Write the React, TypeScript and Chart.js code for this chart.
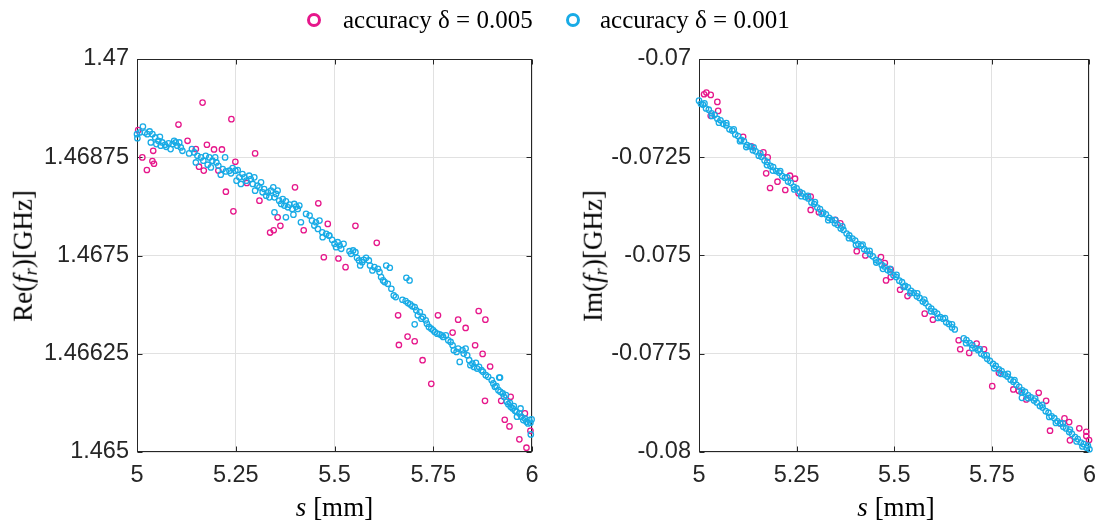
import React, { useEffect, useRef } from "react";
import { Chart, registerables } from "chart.js";

Chart.register(...registerables);

// ---------- ticks ----------
const sTicks = [5, 5.25, 5.5, 5.75, 6];
const sTickLabels = ["5", "5.25", "5.5", "5.75", "6"];
const reTicks = [1.465, 1.46625, 1.4675, 1.46875, 1.47];
const reTickLabels = ["1.465", "1.46625", "1.4675", "1.46875", "1.47"];
const imTicks = [-0.08, -0.0775, -0.075, -0.0725, -0.07];
const imTickLabels = ["-0.08", "-0.0775", "-0.075", "-0.0725", "-0.07"];

const legendLabels = ["accuracy δ = 0.005", "accuracy δ = 0.001"];

// ---------- Re(f_r), accuracy 0.005 : [s, value] ----------
const re005: [number, number][] = [
  [5.166, 1.469445], [5.105, 1.469166], [5.239, 1.469235], [5.003, 1.469095], [5.128, 1.468959],
  [5.177, 1.468909], [5.195, 1.468849], [5.215, 1.468849], [5.149, 1.468854], [5.0135, 1.468748],
  [5.041, 1.468832], [5.039, 1.468701], [5.043, 1.468667], [5.025, 1.468588], [5.299, 1.468799],
  [5.249, 1.468693], [5.157, 1.46863], [5.169, 1.46858], [5.206, 1.46858], [5.225, 1.468312],
  [5.244, 1.468062], [5.278, 1.468423], [5.31, 1.468198], [5.4, 1.468367], [5.459, 1.468164],
  [5.356, 1.467986], [5.363, 1.467877], [5.337, 1.467792], [5.346, 1.467821], [5.422, 1.467821],
  [5.483, 1.467902], [5.473, 1.467478], [5.553, 1.467877], [5.607, 1.467661], [5.51, 1.467462],
  [5.528, 1.467352], [5.661, 1.466739], [5.762, 1.466739], [5.813, 1.466684], [5.865, 1.466794],
  [5.882, 1.466684], [5.832, 1.466578], [5.799, 1.466519], [5.685, 1.466468], [5.703, 1.466409],
  [5.663, 1.466362], [5.856, 1.466358], [5.875, 1.466248], [5.723, 1.466168], [5.894, 1.466088],
  [5.745, 1.465867], [5.881, 1.465651], [5.922, 1.465651], [5.946, 1.465702], [5.982, 1.465491],
  [5.931, 1.46541], [5.943, 1.465326], [5.996, 1.46527], [5.968, 1.465161], [5.986, 1.465055],
];

// ---------- Re(f_r), accuracy 0.001 ----------
const re001: [number, number][] = [
  [5.0, 1.469044], [5.001, 1.468993], [5.007, 1.469065], [5.015, 1.469141], [5.02, 1.469065],
  [5.026, 1.469044], [5.032, 1.469078], [5.035, 1.468938], [5.039, 1.469044], [5.046, 1.469002],
  [5.049, 1.468917], [5.054, 1.468959], [5.058, 1.46901], [5.06, 1.468896], [5.064, 1.468938],
  [5.071, 1.468909], [5.074, 1.468883], [5.08, 1.468926], [5.085, 1.468854], [5.09, 1.468917],
  [5.094, 1.468959], [5.098, 1.468938], [5.102, 1.468896], [5.107, 1.468938], [5.111, 1.468875],
  [5.115, 1.468832], [5.132, 1.468799], [5.139, 1.468854], [5.145, 1.468811], [5.149, 1.468684],
  [5.153, 1.468769], [5.162, 1.468748], [5.168, 1.468706], [5.174, 1.468769], [5.179, 1.468655],
  [5.183, 1.468748], [5.187, 1.468621], [5.191, 1.468706], [5.198, 1.468748], [5.201, 1.468684],
  [5.206, 1.468642], [5.212, 1.468528], [5.217, 1.4686], [5.223, 1.468748], [5.225, 1.46857],
  [5.234, 1.468579], [5.238, 1.468545], [5.242, 1.468613], [5.249, 1.468579], [5.252, 1.468452],
  [5.255, 1.468587], [5.259, 1.468494], [5.263, 1.46841], [5.267, 1.468536], [5.272, 1.468494],
  [5.277, 1.468452], [5.284, 1.468515], [5.288, 1.468473], [5.293, 1.46841], [5.297, 1.468494],
  [5.299, 1.468325], [5.305, 1.468388], [5.31, 1.468367], [5.314, 1.468431], [5.318, 1.468304],
  [5.322, 1.468346], [5.327, 1.468261], [5.331, 1.468304], [5.335, 1.46824], [5.339, 1.468325],
  [5.345, 1.468367], [5.348, 1.46824], [5.352, 1.468283], [5.356, 1.468325], [5.36, 1.468198],
  [5.365, 1.468156], [5.369, 1.468219], [5.373, 1.468135], [5.377, 1.46819], [5.382, 1.468113],
  [5.386, 1.468147], [5.393, 1.468092], [5.396, 1.46802], [5.398, 1.468156], [5.403, 1.468122],
  [5.407, 1.468092], [5.411, 1.468135], [5.415, 1.467923], [5.377, 1.467986], [5.348, 1.46805],
  [5.428, 1.468029], [5.437, 1.468008], [5.443, 1.467944], [5.449, 1.467881], [5.453, 1.467923],
  [5.458, 1.467838], [5.462, 1.467944], [5.469, 1.467796], [5.47, 1.467733], [5.479, 1.467775],
  [5.486, 1.467754],
  [5.487, 1.467754], [5.494, 1.467699], [5.5, 1.467648], [5.504, 1.467606], [5.508, 1.467669],
  [5.513, 1.467627], [5.517, 1.467585], [5.523, 1.467648], [5.538, 1.467555], [5.542, 1.467521],
  [5.547, 1.467564], [5.553, 1.467542], [5.557, 1.46747], [5.562, 1.467437], [5.565, 1.467373],
  [5.57, 1.467415], [5.574, 1.467445], [5.58, 1.46747], [5.587, 1.467437], [5.59, 1.467373],
  [5.596, 1.46731], [5.601, 1.467352], [5.61, 1.467331], [5.614, 1.467289], [5.618, 1.467225],
  [5.623, 1.467183], [5.627, 1.467162], [5.631, 1.467373], [5.635, 1.46714], [5.64, 1.467344],
  [5.644, 1.467077], [5.65, 1.466992], [5.655, 1.466971], [5.672, 1.466937], [5.68, 1.46692],
  [5.682, 1.467217], [5.69, 1.467183], [5.686, 1.466895], [5.692, 1.466878], [5.697, 1.466853],
  [5.703, 1.466844], [5.707, 1.466802], [5.711, 1.466739], [5.716, 1.466781], [5.72, 1.466696],
  [5.724, 1.466718], [5.731, 1.466675], [5.734, 1.466633], [5.703, 1.466624], [5.739, 1.466591],
  [5.745, 1.466569], [5.75, 1.466548], [5.754, 1.466527], [5.76, 1.466506], [5.766, 1.466498],
  [5.771, 1.466485], [5.775, 1.466464], [5.782, 1.466485], [5.788, 1.466421], [5.794, 1.4664],
  [5.799, 1.466358], [5.802, 1.466295], [5.809, 1.466273], [5.813, 1.466316], [5.817, 1.466146],
  [5.824, 1.466295], [5.827, 1.466252], [5.832, 1.466316], [5.836, 1.466231], [5.841, 1.466168],
  [5.844, 1.466104], [5.849, 1.466125], [5.853, 1.466083], [5.858, 1.466134], [5.861, 1.466062],
  [5.866, 1.466083], [5.872, 1.466041], [5.876, 1.46602], [5.883, 1.465977], [5.889, 1.465956],
  [5.919, 1.465948],
  [5.898, 1.465914], [5.902, 1.465872], [5.906, 1.465829], [5.91, 1.465838], [5.917, 1.465948],
  [5.915, 1.465787], [5.92, 1.465766], [5.926, 1.465745], [5.929, 1.465702], [5.934, 1.465723],
  [5.936, 1.465639], [5.94, 1.465609], [5.944, 1.465626], [5.946, 1.465575], [5.951, 1.465554],
  [5.954, 1.465584], [5.957, 1.465525], [5.961, 1.465512], [5.962, 1.465449], [5.968, 1.465491],
  [5.971, 1.465554], [5.973, 1.465449], [5.978, 1.465406], [5.982, 1.465427], [5.986, 1.465385],
  [5.99, 1.465364], [5.993, 1.465406], [5.996, 1.465372], [5.997, 1.465224], [5.999, 1.465415],
];

// ---------- Im(f_r), accuracy 0.005 ----------
const im005: [number, number][] = [
  [5.013, -0.070897], [5.019, -0.070854], [5.03, -0.070914], [5.047, -0.071091], [5.049, -0.07132],
  [5.03, -0.071447], [5.113, -0.07198], [5.134, -0.072225], [5.165, -0.072377], [5.176, -0.072504],
  [5.172, -0.07291], [5.182, -0.073282], [5.201, -0.073122], [5.221, -0.073333], [5.233, -0.072969],
  [5.246, -0.073046], [5.255, -0.073418], [5.286, -0.073502], [5.286, -0.073841], [5.307, -0.0739],
  [5.349, -0.074095], [5.362, -0.074179], [5.404, -0.07489], [5.426, -0.075], [5.466, -0.075042],
  [5.476, -0.075194], [5.491, -0.075355], [5.479, -0.075634], [5.491, -0.07555], [5.515, -0.075871],
  [5.534, -0.076032], [5.578, -0.07648], [5.599, -0.076633], [5.665, -0.077157], [5.669, -0.077386],
  [5.692, -0.077479], [5.711, -0.077242], [5.73, -0.077386], [5.751, -0.078325], [5.768, -0.077986],
  [5.805, -0.078409], [5.819, -0.078443], [5.838, -0.078663], [5.87, -0.078494], [5.889, -0.078697],
  [5.899, -0.079458], [5.936, -0.079145], [5.948, -0.079239], [5.925, -0.079272], [5.974, -0.079398],
  [5.992, -0.079485], [5.992, -0.079594], [5.95, -0.079703], [5.999, -0.079695],
];

// ---------- Im(f_r), accuracy 0.001 ----------
const im001: [number, number][] = [
  [5.0, -0.07106], [5.005, -0.07114], [5.01, -0.07116], [5.018, -0.07126], [5.025, -0.07129],
  [5.032, -0.07138], [5.04, -0.07142], [5.047, -0.07152], [5.055, -0.07156], [5.062, -0.07165],
  [5.07, -0.07169], [5.078, -0.07179], [5.085, -0.07182], [5.093, -0.07192], [5.1, -0.07196],
  [5.108, -0.07206], [5.115, -0.07209], [5.123, -0.07219], [5.13, -0.07222], [5.138, -0.07232],
  [5.145, -0.07235], [5.153, -0.07246], [5.16, -0.07249], [5.168, -0.07258], [5.175, -0.07262],
  [5.183, -0.07272], [5.19, -0.07275], [5.198, -0.07285], [5.205, -0.07289], [5.213, -0.07298],
  [5.22, -0.07302], [5.228, -0.07312], [5.235, -0.07315], [5.243, -0.07325], [5.25, -0.07329],
  [5.258, -0.07338], [5.265, -0.07342], [5.273, -0.07351], [5.28, -0.07355], [5.288, -0.07365],
  [5.295, -0.07369], [5.303, -0.07378], [5.31, -0.07382], [5.318, -0.07391], [5.325, -0.07395],
  [5.333, -0.07404], [5.34, -0.07409], [5.348, -0.07418], [5.355, -0.07422], [5.363, -0.07431],
  [5.37, -0.07435], [5.378, -0.07444], [5.385, -0.07449], [5.393, -0.07457], [5.4, -0.07462],
  [5.408, -0.07471], [5.415, -0.07475], [5.423, -0.07484], [5.43, -0.07488], [5.438, -0.07497],
  [5.445, -0.07502], [5.453, -0.07511], [5.46, -0.07515], [5.468, -0.07524], [5.475, -0.07528],
  [5.483, -0.07537], [5.49, -0.07542], [5.498, -0.0755], [5.505, -0.07555], [5.513, -0.07564],
  [5.52, -0.07568], [5.528, -0.07577], [5.535, -0.07581], [5.543, -0.0759], [5.55, -0.07595],
  [5.558, -0.07604], [5.565, -0.07608], [5.573, -0.07617], [5.58, -0.07621], [5.588, -0.0763],
  [5.595, -0.07635], [5.603, -0.07643], [5.61, -0.07648], [5.618, -0.07657], [5.625, -0.07661],
  [5.633, -0.0767], [5.64, -0.07674], [5.648, -0.07683], [5.655, -0.07688], [5.678, -0.07711],
  [5.685, -0.07715], [5.693, -0.07723], [5.7, -0.07728], [5.708, -0.07736], [5.715, -0.07741],
  [5.723, -0.0775], [5.73, -0.07754], [5.738, -0.07763], [5.745, -0.07768], [5.753, -0.07776],
  [5.76, -0.07781], [5.768, -0.0779], [5.775, -0.07794], [5.783, -0.07803], [5.79, -0.07808],
  [5.798, -0.07816], [5.805, -0.07821], [5.813, -0.07829], [5.82, -0.07834], [5.828, -0.07843],
  [5.835, -0.07847], [5.843, -0.07856], [5.85, -0.07861], [5.858, -0.07869], [5.865, -0.07874],
  [5.873, -0.07883], [5.88, -0.07887], [5.888, -0.07896], [5.895, -0.079], [5.903, -0.07909],
  [5.91, -0.07914], [5.918, -0.07922], [5.925, -0.07927], [5.933, -0.07936], [5.94, -0.0794],
  [5.948, -0.07949], [5.955, -0.07954], [5.963, -0.07962], [5.97, -0.07967], [5.978, -0.07976],
  [5.985, -0.0798], [5.993, -0.07989], [6.0, -0.07993], [5.827, -0.078622],
  [5.014, -0.07113], [5.051, -0.07162], [5.089, -0.07179], [5.121, -0.07224], [5.157, -0.0724],
  [5.189, -0.07284], [5.226, -0.07301], [5.262, -0.07349], [5.297, -0.07364], [5.331, -0.0741],
  [5.367, -0.07426], [5.402, -0.07473], [5.437, -0.07488], [5.471, -0.07534], [5.506, -0.07549],
  [5.541, -0.07596], [5.577, -0.07612], [5.612, -0.07659], [5.648, -0.07675], [5.684, -0.07723],
  [5.719, -0.07738], [5.756, -0.07787], [5.791, -0.07801], [5.826, -0.07848], [5.861, -0.07864],
  [5.897, -0.07911], [5.932, -0.07927], [5.967, -0.07973], [5.996, -0.07984],
  [5.033, -0.07145], [5.07, -0.07163], [5.105, -0.07209], [5.14, -0.07225], [5.174, -0.0727],
  [5.208, -0.07285], [5.244, -0.07332], [5.279, -0.07348], [5.314, -0.07394], [5.349, -0.0741],
  [5.384, -0.07456], [5.419, -0.07472], [5.454, -0.07518], [5.489, -0.07534], [5.524, -0.0758],
  [5.559, -0.07596], [5.594, -0.07642], [5.63, -0.07659], [5.7, -0.07736], [5.737, -0.07754],
  [5.773, -0.07801], [5.808, -0.07817], [5.843, -0.07863], [5.879, -0.0788], [5.914, -0.07926],
  [5.95, -0.07943], [5.982, -0.07986],
];

const MAGENTA = "#E6178B";
const CYAN = "#18ABE6";
const AXIS = "#262626";
const GRID = "#e1e1e1";
const TICK_FONT = "'Liberation Sans', Arial, sans-serif";
const SERIF = "'Liberation Serif', 'Times New Roman', serif";

const boxPlugin = {
  id: "boxTicks",
  beforeDatasetsDraw(chart: any) {
    const { ctx, chartArea: a, scales } = chart;
    const L = Math.round(a.left) + 0.5;
    const R = Math.round(a.right) - 0.5;
    const T = Math.round(a.top) + 0.5;
    const B = Math.round(a.bottom) - 0.5;
    ctx.save();
    ctx.strokeStyle = AXIS;
    ctx.lineWidth = 1;
    ctx.beginPath();
    const tl = 5;
    scales.x.ticks.forEach((t: any) => {
      const p = Math.round(scales.x.getPixelForValue(t.value)) + 0.5;
      ctx.moveTo(p, B);
      ctx.lineTo(p, B - tl);
      ctx.moveTo(p, T);
      ctx.lineTo(p, T + tl);
    });
    scales.y.ticks.forEach((t: any) => {
      const p = Math.round(scales.y.getPixelForValue(t.value)) + 0.5;
      ctx.moveTo(L, p);
      ctx.lineTo(L + tl, p);
      ctx.moveTo(R, p);
      ctx.lineTo(R - tl, p);
    });
    ctx.stroke();
    ctx.strokeRect(L, T, R - L, B - T);
    ctx.restore();
  },
};

function makeConfig(
  d005: [number, number][],
  d001: [number, number][],
  yTicks: number[],
  yLabels: string[],
  yWidth: number,
  rightPad: number
): any {
  const ds = (data: [number, number][], color: string, order: number, label: string) => ({
    label,
    data: data.map(([x, y]) => ({ x, y })),
    borderColor: color,
    backgroundColor: "rgba(0,0,0,0)",
    pointRadius: 2.7,
    pointBorderWidth: 1.3,
    pointHoverRadius: 2.7,
    showLine: false,
    clip: false,
    order,
  });
  const labelFor = (ticks: number[], labels: string[]) => (v: any) => {
    const i = ticks.findIndex((t) => Math.abs(t - Number(v)) < 1e-9);
    return i >= 0 ? labels[i] : "";
  };
  return {
    type: "scatter",
    data: {
      datasets: [
        ds(d005, MAGENTA, 2, legendLabels[0]),
        ds(d001, CYAN, 1, legendLabels[1]),
      ],
    },
    options: {
      animation: false,
      responsive: false,
      maintainAspectRatio: false,
      events: [],
      layout: { padding: { top: 59, right: rightPad, left: 0, bottom: 0 } },
      plugins: { legend: { display: false }, tooltip: { enabled: false } },
      scales: {
        x: {
          type: "linear",
          min: sTicks[0],
          max: sTicks[sTicks.length - 1],
          afterBuildTicks: (s: any) => {
            s.ticks = sTicks.map((v) => ({ value: v }));
          },
          afterFit: (s: any) => {
            s.height = 70;
          },
          grid: { color: GRID, lineWidth: 1, drawTicks: false },
          border: { display: false },
          ticks: {
            padding: 9,
            color: AXIS,
            font: { family: TICK_FONT, size: 23.5 },
            maxRotation: 0,
            autoSkip: false,
            callback: labelFor(sTicks, sTickLabels),
          },
        },
        y: {
          type: "linear",
          min: yTicks[0],
          max: yTicks[yTicks.length - 1],
          afterBuildTicks: (s: any) => {
            s.ticks = yTicks.map((v) => ({ value: v }));
          },
          afterFit: (s: any) => {
            s.width = yWidth;
          },
          grid: { color: GRID, lineWidth: 1, drawTicks: false },
          border: { display: false },
          ticks: {
            padding: 8,
            color: AXIS,
            font: { family: TICK_FONT, size: 23.5 },
            autoSkip: false,
            callback: labelFor(yTicks, yLabels),
          },
        },
      },
    },
    plugins: [boxPlugin],
  };
}

function Ring({ cx, cy, color }: { cx: number; cy: number; color: string }) {
  return (
    <div
      style={{
        position: "absolute",
        left: cx - 7,
        top: cy - 7,
        width: 14,
        height: 14,
        borderRadius: "50%",
        border: `3px solid ${color}`,
        boxSizing: "border-box",
      }}
    />
  );
}

const textBase: React.CSSProperties = {
  position: "absolute",
  fontFamily: SERIF,
  color: "#000",
  whiteSpace: "nowrap",
  lineHeight: 1,
};

function YTitle({ cx, cy, name }: { cx: number; cy: number; name: string }) {
  return (
    <div
      style={{
        ...textBase,
        fontSize: 27,
        left: cx,
        top: cy,
        transform: "translate(-50%, -50%) rotate(-90deg)",
      }}
    >
      {name}(<i>f</i>
      <sub style={{ fontSize: "0.68em", verticalAlign: "-0.28em", fontStyle: "italic" }}>r</sub>
      )[GHz]
    </div>
  );
}

function XTitle({ cx, cy }: { cx: number; cy: number }) {
  return (
    <div
      style={{
        ...textBase,
        fontSize: 27,
        left: cx,
        top: cy,
        transform: "translate(-50%, -50%)",
      }}
    >
      <i>s</i> [mm]
    </div>
  );
}

export default function App() {
  const leftRef = useRef<HTMLCanvasElement>(null);
  const rightRef = useRef<HTMLCanvasElement>(null);

  useEffect(() => {
    const c1 = new Chart(
      leftRef.current as HTMLCanvasElement,
      makeConfig(re005, re001, reTicks, reTickLabels, 137, 20)
    );
    const c2 = new Chart(
      rightRef.current as HTMLCanvasElement,
      makeConfig(im005, im001, imTicks, imTickLabels, 147, 12)
    );
    return () => {
      c1.destroy();
      c2.destroy();
    };
  }, []);

  return (
    <div
      style={{
        position: "absolute",
        left: 0,
        top: 0,
        width: 1105,
        height: 522,
        background: "#fff",
        overflow: "hidden",
      }}
    >
      <canvas
        ref={leftRef}
        width={552}
        height={522}
        style={{ position: "absolute", left: 0, top: 0, width: 552, height: 522 }}
      />
      <canvas
        ref={rightRef}
        width={553}
        height={522}
        style={{ position: "absolute", left: 552, top: 0, width: 553, height: 522 }}
      />
      <Ring cx={314} cy={20} color={MAGENTA} />
      <div style={{ ...textBase, fontSize: 25, left: 343, top: 7 }}>{legendLabels[0]}</div>
      <Ring cx={573} cy={20} color={CYAN} />
      <div style={{ ...textBase, fontSize: 25, left: 600, top: 7 }}>{legendLabels[1]}</div>
      <YTitle cx={25} cy={256} name="Re" />
      <YTitle cx={595} cy={256} name="Im" />
      <XTitle cx={334.5} cy={507} />
      <XTitle cx={896} cy={507} />
    </div>
  );
}
